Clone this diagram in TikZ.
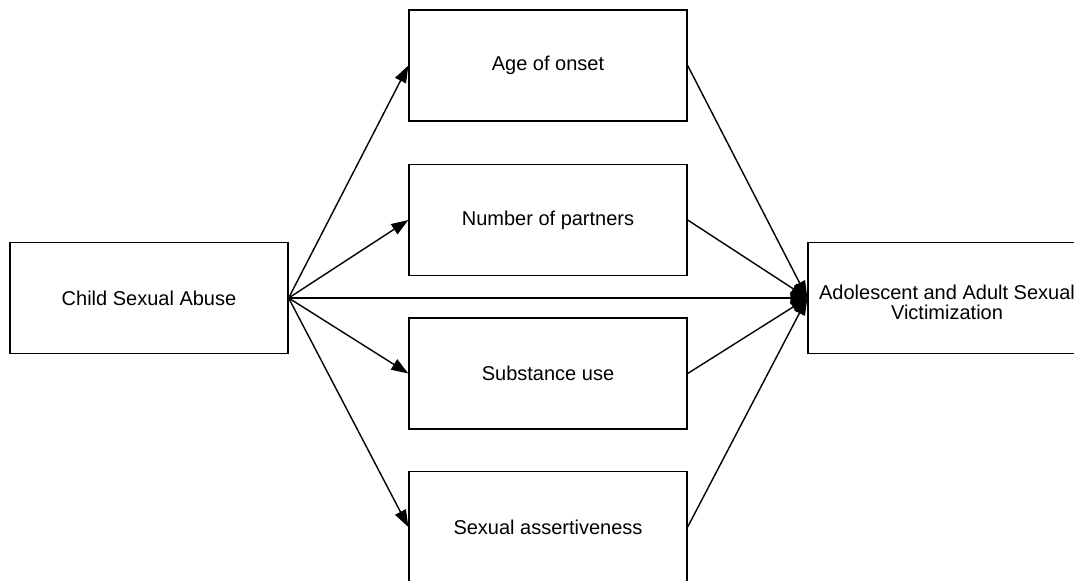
\documentclass[tikz,border=0pt]{standalone}
\usepackage{fontspec}
\setmainfont{Liberation Sans}
\usetikzlibrary{arrows.meta}
\begin{document}
\begin{tikzpicture}[x=1pt,y=1pt,
  box/.style={draw, line width=1.3pt, minimum width=278pt, minimum height=111pt, inner sep=0pt, align=center, font=\fontsize{20}{20}\selectfont},
  arr/.style={line width=1.4pt, -{Triangle[length=17pt,width=12pt]}}]
\useasboundingbox (0,0) rectangle (1074,-581);
\clip (0,0) rectangle (1074,-581);
\fill[white] (0,0) rectangle (1074,-581);
\node[box] (csa) at (149,-298) {Child Sexual Abuse};
\node[box] (age) at (548,-65.5) {Age of onset};
\node[box] (num) at (548,-220) {Number of partners};
\node[box] (sub) at (548,-373.5) {Substance use};
\node[box] (sex) at (548,-527) {Sexual assertiveness};
\node[box, label={[font=\fontsize{20}{20}\selectfont, align=center, yshift=-4pt]center:Adolescent and Adult Sexual\\Victimization}] (vic) at (947,-298) {};
\draw[arr] (csa.east) -- (age.west);
\draw[arr] (csa.east) -- (num.west);
\draw[arr] (csa.east) -- (sub.west);
\draw[arr] (csa.east) -- (sex.west);
\draw[arr] (csa.east) -- (vic.west);
\draw[arr] (age.east) -- (vic.west);
\draw[arr] (num.east) -- (vic.west);
\draw[arr] (sub.east) -- (vic.west);
\draw[arr] (sex.east) -- (vic.west);
\end{tikzpicture}
\end{document}
